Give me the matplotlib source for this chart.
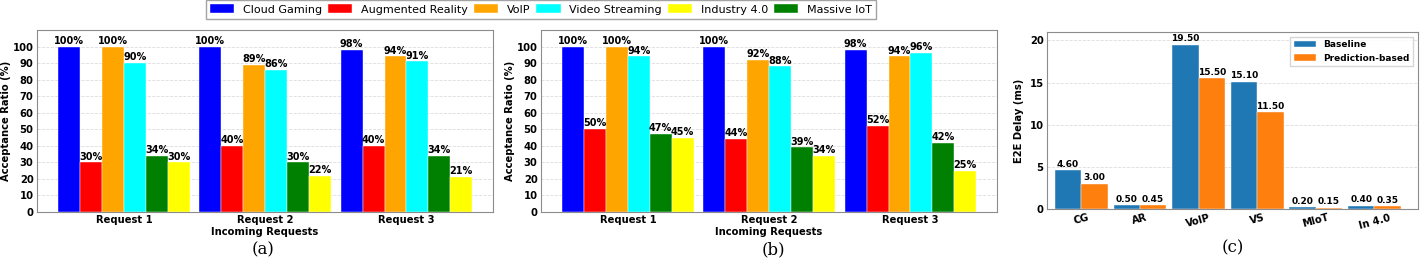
import numpy as np
import matplotlib.pyplot as plt

# acceptance ratio data, (a) and (b)
requests = ['Request 1', 'Request 2', 'Request 3']
services = ['Cloud Gaming', 'Augmented Reality', 'VoIP', 'Video Streaming', 'Massive IoT', 'Industry 4.0']
colors = ['blue', 'red', 'orange', 'cyan', 'green', 'yellow']

acc_a = {
    'Cloud Gaming': [100, 100, 98],
    'Augmented Reality': [30, 40, 40],
    'VoIP': [100, 89, 94],
    'Video Streaming': [90, 86, 91],
    'Massive IoT': [34, 30, 34],
    'Industry 4.0': [30, 22, 21],
}
acc_b = {
    'Cloud Gaming': [100, 100, 98],
    'Augmented Reality': [50, 44, 52],
    'VoIP': [100, 92, 94],
    'Video Streaming': [94, 88, 96],
    'Massive IoT': [47, 39, 42],
    'Industry 4.0': [45, 34, 25],
}

# e2e delay data, (c)
cats = ['CG', 'AR', 'VoIP', 'VS', 'MIoT', 'In 4.0']
baseline = [4.6, 0.5, 19.5, 15.1, 0.2, 0.4]
predicted = [3.0, 0.45, 15.5, 11.5, 0.15, 0.35]

fig = plt.figure(figsize=(14.21, 2.67), dpi=100)
W, H = 1421.0, 267.0
def box(l, t, r, b):
    return [l / W, 1 - b / H, (r - l) / W, (b - t) / H]

ax_a = fig.add_axes(box(37, 30, 493, 212))
ax_b = fig.add_axes(box(541, 30, 997, 212))
ax_c = fig.add_axes(box(1047, 32, 1418, 209))

def style(ax):
    for s in ax.spines.values():
        s.set_color('#8c8c8c')
    ax.tick_params(length=0, labelsize=7.2, pad=2.5)
    for lab in ax.get_xticklabels() + ax.get_yticklabels():
        lab.set_fontweight('bold')
    ax.yaxis.grid(True, linestyle='--', color='#dddddd', linewidth=0.6)
    ax.set_axisbelow(True)

def acc_panel(ax, data):
    x = np.arange(len(requests))
    w = 0.155
    handles = {}
    for i, s in enumerate(services):
        vals = data[s]
        bars = ax.bar(x + (i - 2.5) * w, vals, w, color=colors[i], label=s,
                      edgecolor='white', linewidth=0.3)
        handles[s] = bars
        for xb, v in zip(x + (i - 2.5) * w, vals):
            ax.text(xb, v + 0.5, f'{v}%', ha='center', va='bottom', fontsize=7, fontweight='bold')
    ax.set_xticks(x)
    ax.set_xticklabels(requests)
    ax.set_yticks(range(0, 101, 10))
    ax.set_ylim(0, 110)
    ax.set_xlim(-0.615, 2.613)
    ax.set_ylabel('Acceptance Ratio (%)', fontsize=7.2, fontweight='bold', labelpad=1)
    ax.set_xlabel('Incoming Requests', fontsize=7.2, fontweight='bold', labelpad=1)
    style(ax)
    return handles

h = acc_panel(ax_a, acc_a)
acc_panel(ax_b, acc_b)

leg_order = ['Cloud Gaming', 'Augmented Reality', 'VoIP', 'Video Streaming', 'Industry 4.0', 'Massive IoT']
fig.legend([h[s] for s in leg_order], leg_order, ncol=6, loc='upper center',
           bbox_to_anchor=(541 / W, 1.0), fontsize=8, frameon=True, fancybox=False,
           edgecolor='#8c8c8c', handlelength=2.2, handleheight=0.8, columnspacing=0.5,
           handletextpad=0.8, borderpad=0.4, borderaxespad=0)

# panel (c)
xc = np.arange(len(cats))
wc = 0.45
b1 = ax_c.bar(xc - wc / 2, baseline, wc, color='#1f77b4', label='Baseline', edgecolor='white', linewidth=0.3)
b2 = ax_c.bar(xc + wc / 2, predicted, wc, color='#ff7f0e', label='Prediction-based', edgecolor='white', linewidth=0.3)
for xb, v in zip(xc - wc / 2, baseline):
    ax_c.text(xb, v + 0.15, f'{v:.2f}', ha='center', va='bottom', fontsize=6.5, fontweight='bold')
for xb, v in zip(xc + wc / 2, predicted):
    ax_c.text(xb, v + 0.15, f'{v:.2f}', ha='center', va='bottom', fontsize=6.5, fontweight='bold')
ax_c.set_xticks(xc)
ax_c.set_xticklabels(cats, rotation=15)
ax_c.set_ylim(0, 21)
ax_c.set_xlim(-0.585, 5.744)
ax_c.set_yticks([0, 5, 10, 15, 20])
ax_c.set_ylabel('E2E Delay (ms)', fontsize=7.2, fontweight='bold', labelpad=4)
style(ax_c)
ax_c.legend(loc='upper right', prop={'weight': 'bold', 'size': 6.5}, fancybox=False,
            edgecolor='#cccccc', handlelength=2.5, borderpad=0.4)

fig.text(263 / W, 1 - 250 / H, '(a)', ha='center', va='center', family='serif', fontsize=12)
fig.text(773 / W, 1 - 250 / H, '(b)', ha='center', va='center', family='serif', fontsize=12)
fig.text(1233 / W, 1 - 248 / H, '(c)', ha='center', va='center', family='serif', fontsize=12)

fig.savefig('out.png', dpi=100)
